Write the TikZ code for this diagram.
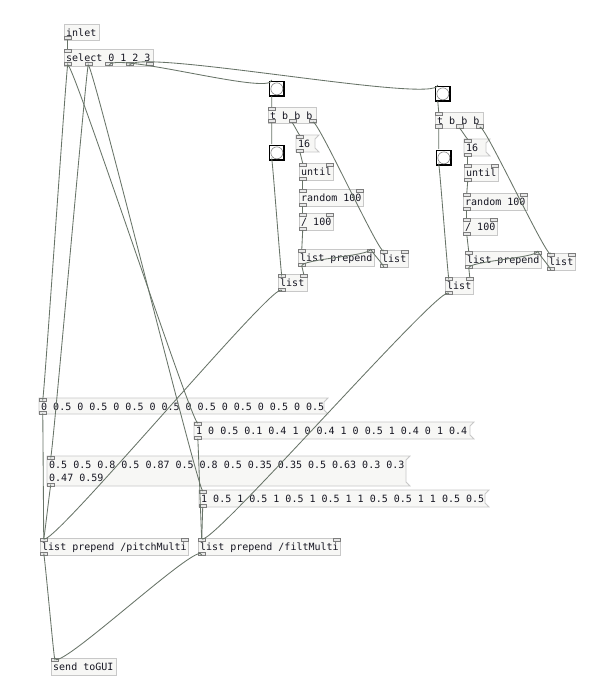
\documentclass[tikz,border=0pt]{standalone}
\usepackage{fontspec}
\setmonofont{DejaVu Sans Mono}
\usetikzlibrary{calc}
\definecolor{boxline}{RGB}{200,200,200}
\definecolor{boxfill}{RGB}{247,247,245}
\definecolor{portline}{RGB}{125,125,125}
\definecolor{portfill}{RGB}{232,232,232}
\definecolor{wirec}{RGB}{104,116,104}
\definecolor{txtc}{RGB}{22,22,34}
\tikzset{
  pdbox/.style={draw=boxline, fill=boxfill, line width=0.8pt, inner sep=0pt, rectangle},
  pdhid/.style={inner sep=0pt, rectangle},
  pdmsgline/.style={draw=boxline, fill=boxfill, line width=0.8pt},
  pdtxt/.style={font=\ttfamily\fontsize{10}{13}\selectfont, text=txtc, inner sep=0pt},
  pdport/.style={draw=portline, fill=portfill, line width=0.5pt, inner sep=0pt, rectangle, minimum width=7pt, minimum height=3pt},
  pdbport/.style={inner sep=0pt, rectangle, minimum width=7pt, minimum height=3pt},
  pdbang/.style={draw=black, fill=white, line width=1.6pt, inner sep=0pt, rectangle, minimum size=14.5pt},
  pdcirc/.style={draw=gray, fill=white, line width=0.6pt, circle, inner sep=0pt, minimum size=12pt},
  pdwire/.style={draw=wirec, line width=0.85pt}
}
% ports: name x1 y1 x2 y2 nin nout
\newcommand\pdports[7]{%
  \ifnum#6=1 \node[pdport, anchor=north west] (#1-i1) at (#2,#3) {};\fi
  \ifnum#6>1 \foreach \k in {1,...,#6}{\pgfmathsetmacro\px{#2+(\k-1)*(#4-#2-7)/(#6-1)}\node[pdport, anchor=north west] (#1-i\k) at (\px,#3) {};}\fi
  \ifnum#7=1 \node[pdport, anchor=south west] (#1-o1) at (#2,#5) {};\fi
  \ifnum#7>1 \foreach \k in {1,...,#7}{\pgfmathsetmacro\px{#2+(\k-1)*(#4-#2-7)/(#7-1)}\node[pdport, anchor=south west] (#1-o\k) at (\px,#5) {};}\fi
}
% object: name x1 y1 x2 y2 text nin nout
\newcommand\pdobj[8]{%
  \node[pdbox, anchor=north west, minimum width={#4-#2}, minimum height={#5-#3}] (#1) at (#2,#3) {};
  \node[pdtxt, anchor=base west] (#1-t) at ({#2+2},{#3+12.5}) {#6};
  \pdports{#1}{#2}{#3}{#4}{#5}{#7}{#8}%
}
% message: name x1 y1 x2 y2 text
\newcommand\pdmsg[6]{%
  \node[pdhid, anchor=north west, minimum width={#4-#2}, minimum height={#5-#3}] (#1) at (#2,#3) {};
  \path[pdmsgline] (#2,#3) -- (#4,#3) -- ({#4-4},{#3+4}) -- ({#4-4},{#5-4}) -- (#4,#5) -- (#2,#5) -- cycle;
  \node[pdtxt, anchor=base west] (#1-t) at ({#2+2},{#3+12.5}) {#6};
  \pdports{#1}{#2}{#3}{#4}{#5}{1}{1}%
}
% bang: name x y
\newcommand\pdbangobj[3]{%
  \node[pdbang, anchor=north west] (#1) at ({#2+0.8},{#3+0.8}) {};
  \node[pdcirc] (#1-c) at (#1.center) {};
  \node[pdbport, anchor=north west] (#1-i1) at (#2,#3) {};
  \node[pdbport, anchor=south west] (#1-o1) at (#2,{#3+16}) {};
}
\newcommand\wire[2]{%
  \draw[pdwire] let \p1=(#1.south), \p2=(#2.north),
    \n1={min(20,0.1*veclen(\x2-\x1,\y2-\y1))} in
    (\p1) .. controls ($(\p1)+(0,\n1)$) and ($(\p2)+(0,-\n1)$) .. (\p2);
}
\begin{document}
\begin{tikzpicture}[x=1pt,y=-1pt]
\useasboundingbox[fill=white] (0,0) rectangle (600,682);

\pdobj{inl}{64}{24}{99}{40}{inlet}{0}{1}
\pdobj{sel}{64}{49}{153}{66}{select 0 1 2 3}{1}{5}

% left group
\pdbangobj{bA}{268}{80}
\pdobj{tA}{268}{107}{316}{123}{t b b b}{1}{3}
\pdbangobj{bA2}{268}{144}
\pdmsg{nA}{296}{135}{319}{152}{16}
\pdobj{uA}{299}{163}{333}{180}{until}{2}{1}
\pdobj{rA}{299}{189}{363}{206}{random 100}{2}{1}
\pdobj{dA}{299}{213}{333}{230}{/ 100}{2}{1}
\pdobj{pA}{298}{249}{374}{266}{list prepend}{2}{1}
\pdobj{sA}{380}{250}{408}{267}{list}{2}{1}
\pdobj{lA}{278}{274}{307}{291}{list}{2}{1}

% right group
\pdbangobj{bB}{434}{85}
\pdobj{tB}{435}{112}{483}{128}{t b b b}{1}{3}
\pdbangobj{bB2}{435}{149}
\pdmsg{nB}{464}{139}{490}{156}{16}
\pdobj{uB}{464}{164}{498}{181}{until}{2}{1}
\pdobj{rB}{463}{193}{527}{210}{random 100}{2}{1}
\pdobj{dB}{463}{218}{497}{235}{/ 100}{2}{1}
\pdobj{pB}{465}{251}{541}{268}{list prepend}{2}{1}
\pdobj{sB}{547}{253}{575}{270}{list}{2}{1}
\pdobj{lB}{445}{277}{473}{294}{list}{2}{1}

% messages
\pdmsg{m1}{39}{398}{328}{414}{0 0.5 0 0.5 0 0.5 0 0.5 0 0.5 0 0.5 0 0.5 0 0.5}
\pdmsg{m2}{194}{422}{474}{439}{1 0 0.5 0.1 0.4 1 0 0.4 1 0 0.5 1 0.4 0 1 0.4}
\node[pdhid, anchor=north west, minimum width=363pt, minimum height=30pt] (m3) at (47,456) {};
\path[pdmsgline] (47,456) -- (410,456) -- (406,460) -- (406,482) -- (410,486) -- (47,486) -- cycle;
\node[pdtxt, anchor=base west] (m3-t) at (49,468) {0.5 0.5 0.8 0.5 0.87 0.5 0.8 0.5 0.35 0.35 0.5 0.63 0.3 0.3};
\node[pdtxt, anchor=base west] (m3-u) at (49,481) {0.47 0.59};
\pdports{m3}{47}{456}{410}{486}{1}{1}
\pdmsg{m4}{199}{490}{489}{507}{1 0.5 1 0.5 1 0.5 1 0.5 1 1 0.5 0.5 1 1 0.5 0.5}

\pdobj{pm}{40}{538}{188}{555}{list prepend /pitchMulti}{2}{1}
\pdobj{fm}{198}{538}{340}{555}{list prepend /filtMulti}{2}{1}
\pdobj{snd}{51}{658}{116}{675}{send toGUI}{1}{0}

% wires
\wire{inl-o1}{sel-i1}
\wire{sel-o1}{m1-i1}
\wire{sel-o1}{m2-i1}
\wire{sel-o2}{m3-i1}
\wire{sel-o2}{m4-i1}
\wire{sel-o3}{bA-i1}
\wire{sel-o4}{bB-i1}

\wire{bA-o1}{tA-i1}
\wire{tA-o1}{bA2-i1}
\wire{tA-o2}{nA-i1}
\wire{tA-o3}{sA-i1}
\wire{bA2-o1}{lA-i1}
\wire{nA-o1}{uA-i1}
\wire{uA-o1}{rA-i1}
\wire{rA-o1}{dA-i1}
\wire{dA-o1}{pA-i1}
\wire{pA-o1}{pA-i2}
\wire{pA-o1}{lA-i2}
\wire{sA-o1}{pA-i2}
\wire{lA-o1}{pm-i1}

\wire{bB-o1}{tB-i1}
\wire{tB-o1}{bB2-i1}
\wire{tB-o2}{nB-i1}
\wire{tB-o3}{sB-i1}
\wire{bB2-o1}{lB-i1}
\wire{nB-o1}{uB-i1}
\wire{uB-o1}{rB-i1}
\wire{rB-o1}{dB-i1}
\wire{dB-o1}{pB-i1}
\wire{pB-o1}{pB-i2}
\wire{pB-o1}{lB-i2}
\wire{sB-o1}{pB-i2}
\wire{lB-o1}{fm-i1}

\wire{m1-o1}{pm-i1}
\wire{m3-o1}{pm-i1}
\wire{m2-o1}{fm-i1}
\wire{m4-o1}{fm-i1}
\wire{pm-o1}{snd-i1}
\wire{fm-o1}{snd-i1}
\end{tikzpicture}
\end{document}
